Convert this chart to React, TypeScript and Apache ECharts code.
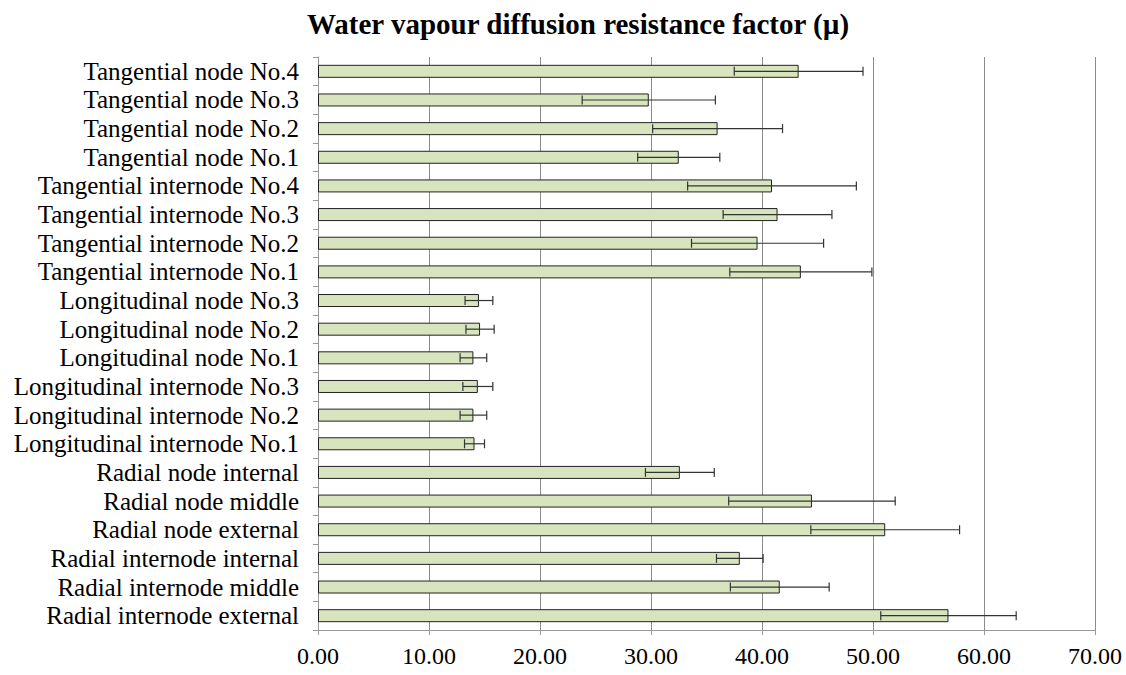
import React, { useEffect, useRef } from "react";
import * as echarts from "echarts";

const categories = [
  "Tangential node No.4",
  "Tangential node No.3",
  "Tangential node No.2",
  "Tangential node No.1",
  "Tangential internode No.4",
  "Tangential internode No.3",
  "Tangential internode No.2",
  "Tangential internode No.1",
  "Longitudinal node No.3",
  "Longitudinal node No.2",
  "Longitudinal node No.1",
  "Longitudinal internode No.3",
  "Longitudinal internode No.2",
  "Longitudinal internode No.1",
  "Radial node internal",
  "Radial node middle",
  "Radial node external",
  "Radial internode internal",
  "Radial internode middle",
  "Radial internode external",
];

const means = [
  43.3, 29.8, 36.0, 32.5, 40.9, 41.4, 39.6, 43.5,
  14.5, 14.6, 14.0, 14.4, 14.0, 14.1,
  32.6, 44.5, 51.1, 38.0, 41.6, 56.8,
];

const sds = [
  5.8, 6.0, 5.85, 3.7, 7.6, 4.9, 5.95, 6.4,
  1.25, 1.27, 1.2, 1.35, 1.2, 0.9,
  3.1, 7.5, 6.7, 2.1, 4.45, 6.1,
];

const xTicks = [0, 10, 20, 30, 40, 50, 60, 70];

export default function App() {
  const ref = useRef<HTMLDivElement>(null);
  useEffect(() => {
    if (!ref.current) return;
    const chart = echarts.init(ref.current, undefined, { renderer: "svg" });
    const errData = means.map((m, i) => [i, m - sds[i], m + sds[i]]);
    chart.setOption({
      animation: false,
      title: {
        text: "Water vapour diffusion resistance factor (µ)",
        left: 573,
        textAlign: "center",
        top: 4,
        textStyle: {
          fontFamily: "Liberation Serif",
          fontWeight: "bold",
          fontSize: 29,
          color: "#000",
        },
      },
      grid: { left: 318, right: 31, top: 57, bottom: 45, containLabel: false },
      xAxis: {
        type: "value",
        min: xTicks[0],
        max: xTicks[xTicks.length - 1],
        interval: 10,
        axisLine: { show: true, lineStyle: { color: "#999", width: 1 } },
        axisTick: { show: true, length: 5, lineStyle: { color: "#999" } },
        splitLine: { show: true, lineStyle: { color: "#8c8c8c", width: 1 } },
        axisLabel: {
          formatter: (v: number) => v.toFixed(2),
          fontFamily: "Liberation Serif",
          fontSize: 24,
          color: "#000",
          margin: 14,
        },
      },
      yAxis: {
        type: "category",
        data: categories,
        inverse: true,
        axisLine: { show: true, lineStyle: { color: "#999", width: 1 } },
        axisTick: { show: true, length: 5, interval: 0, alignWithLabel: false, lineStyle: { color: "#999" } },
        axisLabel: {
          interval: 0,
          fontFamily: "Liberation Serif",
          fontSize: 25,
          color: "#000",
          margin: 19,
        },
      },
      series: [
        {
          type: "bar",
          data: means,
          barWidth: 13,
          itemStyle: { color: "#D7E4BD", borderColor: "#222", borderWidth: 1 },
        },
        {
          type: "custom",
          data: errData,
          encode: { x: [1, 2], y: 0 },
          z: 10,
          renderItem: (params: any, api: any) => {
            const idx = api.value(0);
            const lo = api.coord([api.value(1), idx]);
            const hi = api.coord([api.value(2), idx]);
            const h = 4.5;
            const style = { stroke: "#333", lineWidth: 1.2, fill: "none" };
            return {
              type: "group",
              children: [
                { type: "line", shape: { x1: lo[0], y1: lo[1], x2: hi[0], y2: hi[1] }, style },
                { type: "line", shape: { x1: lo[0], y1: lo[1] - h, x2: lo[0], y2: lo[1] + h }, style },
                { type: "line", shape: { x1: hi[0], y1: hi[1] - h, x2: hi[0], y2: hi[1] + h }, style },
              ],
            };
          },
        },
      ],
    });
    return () => chart.dispose();
  }, []);
  return <div ref={ref} style={{ width: 1126, height: 675, position: "absolute", left: 0, top: 0, background: "#fff" }} />;
}
